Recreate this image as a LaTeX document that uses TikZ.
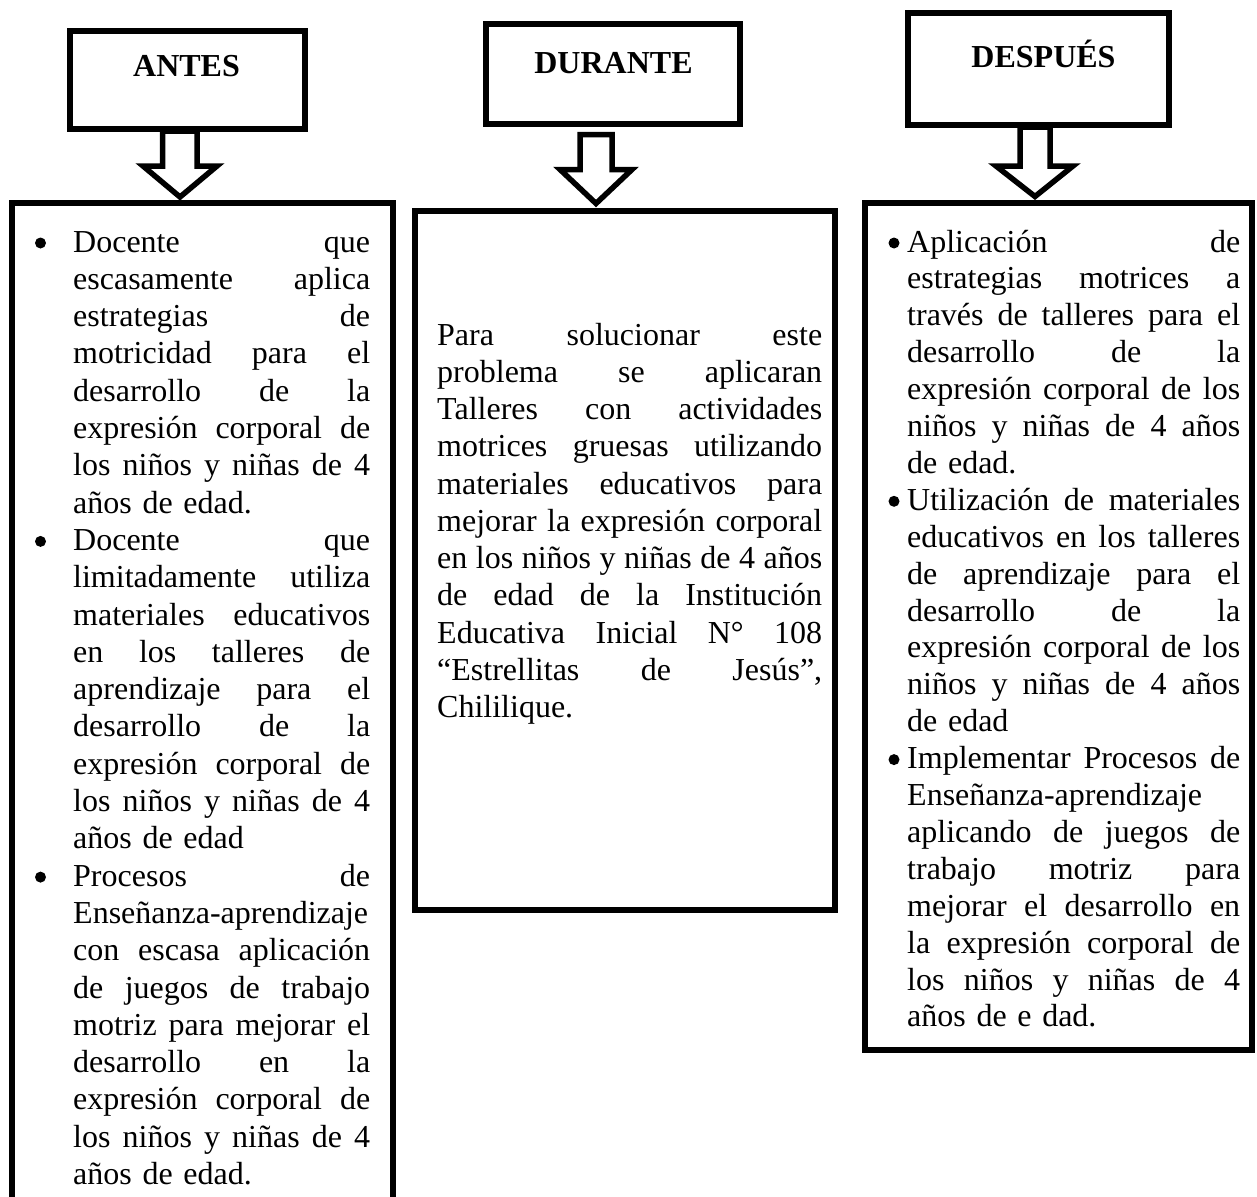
\documentclass[tikz,border=0pt]{standalone}
\usepackage{fontspec}
\setmainfont{Liberation Serif}
\newcommand\jline[1]{\hbox to \hsize{\spaceskip=.25em plus 1fil\xspaceskip=.25em plus 1fil\relax#1}}
\newcommand\lline[1]{\hbox to \hsize{#1\hfil}}
\tikzset{
  frame/.style={draw=black, line width=6pt, fill=white, inner sep=0pt},
  blockarrow/.style={draw=black, line width=5.5pt, fill=white, line join=miter},
  headtxt/.style={font=\bfseries\fontsize{32}{38}\selectfont, inner sep=0pt, anchor=base},
  bodytxt/.style={inner sep=0pt, anchor=base west},
  bulletdot/.style={circle, fill=black, minimum size=11pt, inner sep=0pt}
}
\begin{document}
\begin{tikzpicture}[x=1pt,y=-1pt]
\useasboundingbox (0,0) rectangle (1257,1196);
\clip (0,0) rectangle (1257,1196);

% header boxes
\node[frame, minimum width=235pt, minimum height=98pt] (hA) at (187.5,80) {};
\node[frame, minimum width=254pt, minimum height=100pt] (hD) at (613,74) {};
\node[frame, minimum width=261pt, minimum height=112pt] (hP) at (1038.5,69) {};
\node[headtxt] (tA) at (186.5,77) {ANTES};
\node[headtxt] (tD) at (613.5,73.5) {DURANTE};
\node[headtxt] (tP) at (1043.5,68) {DESPUÉS};

% content boxes
\node[frame, minimum width=381pt, minimum height=1027pt] (cA) at (202,716.5) {};
\node[frame, minimum width=420pt, minimum height=699pt] (cD) at (625,560.5) {};
\node[frame, minimum width=387pt, minimum height=847pt] (cP) at (1058.5,626.5) {};

% block arrows
\draw[blockarrow] (162.5,131) -- (162.5,166) -- (143,166) -- (180,197) -- (217,166) -- (197,166) -- (197,131) -- cycle;
\draw[blockarrow] (580,134.5) -- (580,169.5) -- (560,169.5) -- (596,203.5) -- (632,169.5) -- (612,169.5) -- (612,134.5) -- cycle;
\draw[blockarrow] (1020,127) -- (1020,166) -- (996,166) -- (1035,196.5) -- (1073,166) -- (1050,166) -- (1050,127) -- cycle;

% bullets
\node[bulletdot] (bA1) at (40.5,243) {};
\node[bulletdot] (bA2) at (40.5,541.4) {};
\node[bulletdot] (bA3) at (40.5,877.1) {};
\node[bulletdot] (bP1) at (894,243) {};
\node[bulletdot] (bP2) at (894,501.3) {};
\node[bulletdot] (bP3) at (894,759.6) {};

% left text
\node[bodytxt, text width=297pt, font=\fontsize{32}{37.3}\selectfont] (xA) at (73,252) {%
\jline{Docente que}
\jline{escasamente aplica}
\jline{estrategias de}
\jline{motricidad para el}
\jline{desarrollo de la}
\jline{expresión corporal de}
\jline{los niños y niñas de 4}
\lline{años de edad.}
\jline{Docente que}
\jline{limitadamente utiliza}
\jline{materiales educativos}
\jline{en los talleres de}
\jline{aprendizaje para el}
\jline{desarrollo de la}
\jline{expresión corporal de}
\jline{los niños y niñas de 4}
\lline{años de edad}
\jline{Procesos de}
\lline{Enseñanza-aprendizaje}
\jline{con escasa aplicación}
\jline{de juegos de trabajo}
\jline{motriz para mejorar el}
\jline{desarrollo en la}
\jline{expresión corporal de}
\jline{los niños y niñas de 4}
\lline{años de edad.}};

% middle text
\node[bodytxt, text width=385pt, font=\fontsize{32}{37.25}\selectfont] (xD) at (437,345) {%
\jline{Para solucionar este}
\jline{problema se aplicaran}
\jline{Talleres con actividades}
\jline{motrices gruesas utilizando}
\jline{materiales educativos para}
\jline{mejorar la expresión corporal}
\jline{en los niños y niñas de 4 años}
\jline{de edad de la Institución}
\jline{Educativa Inicial N° 108}
\jline{“Estrellitas de Jesús”,}
\lline{Chililique.}};

% right text
\node[bodytxt, text width=333pt, font=\fontsize{32}{36.9}\selectfont] (xP) at (907,252) {%
\jline{Aplicación de}
\jline{estrategias motrices a}
\jline{través de talleres para el}
\jline{desarrollo de la}
\jline{expresión corporal de los}
\jline{niños y niñas de 4 años}
\lline{de edad.}
\jline{Utilización de materiales}
\jline{educativos en los talleres}
\jline{de aprendizaje para el}
\jline{desarrollo de la}
\jline{expresión corporal de los}
\jline{niños y niñas de 4 años}
\lline{de edad}
\jline{Implementar Procesos de}
\lline{Enseñanza-aprendizaje}
\jline{aplicando de juegos de}
\jline{trabajo motriz para}
\jline{mejorar el desarrollo en}
\jline{la expresión corporal de}
\jline{los niños y niñas de 4}
\lline{años de e dad.}};
\end{tikzpicture}
\end{document}
